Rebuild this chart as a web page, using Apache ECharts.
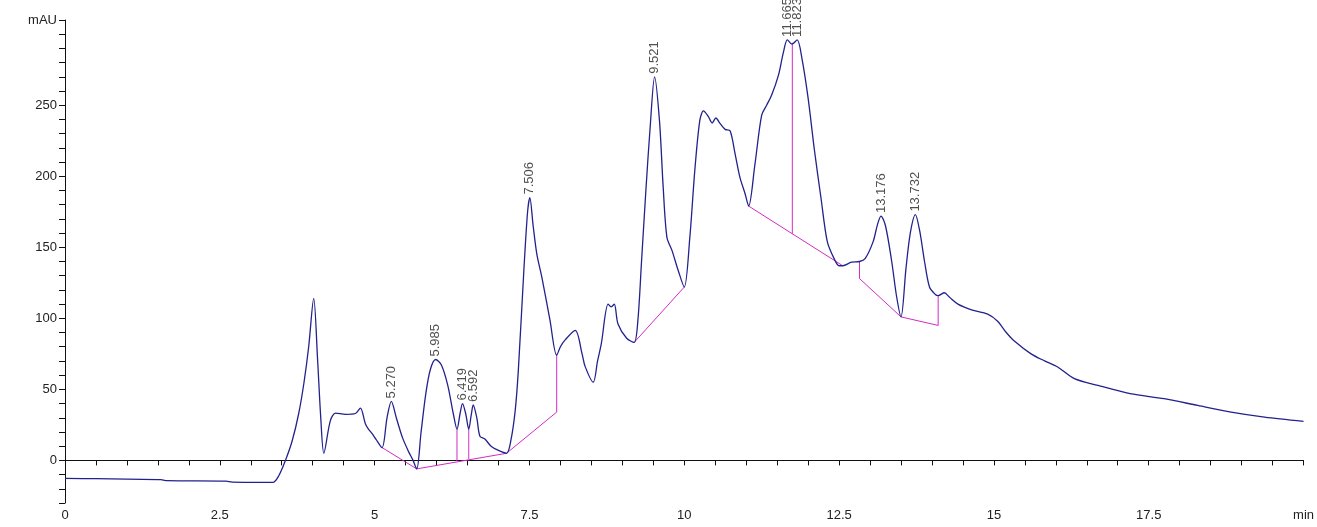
<!DOCTYPE html>
<html>
<head>
<meta charset="utf-8">
<title>Chromatogram</title>
<script src="https://cdn.jsdelivr.net/npm/echarts@6/dist/echarts.min.js"></script>
<style>
  html, body { margin: 0; padding: 0; background: #ffffff; }
  #chart { width: 1317px; height: 527px; }
</style>
</head>
<body>
<div id="chart"></div>
<script>
// Detector trace: retention time (min) and absorbance (mAU)
const traceTime = [
  0, 0.5, 1.0, 1.5, 1.55, 1.65, 2.6, 2.7, 3.355, 3.45, 3.56, 3.67, 3.774, 3.86, 3.935, 4.016,
  4.08, 4.13, 4.18, 4.285, 4.37, 4.53, 4.69, 4.77, 4.85, 4.9, 4.96, 5.02, 5.12,
  5.2, 5.27, 5.35, 5.45, 5.55, 5.62, 5.68,
  5.75, 5.83, 5.9, 5.985, 6.08, 6.18, 6.27, 6.33, 6.38, 6.419, 6.47, 6.52, 6.56, 6.592, 6.65, 6.7, 6.78, 6.88, 7.0, 7.13,
  7.2, 7.27, 7.32, 7.41, 7.47, 7.506, 7.56, 7.62, 7.7, 7.83, 7.94, 8.0, 8.08, 8.24, 8.35, 8.4, 8.53, 8.6, 8.66, 8.77, 8.82, 8.87, 8.93, 9.07, 9.19,
  9.25, 9.31, 9.38, 9.45, 9.521, 9.6, 9.66, 9.72, 9.8, 9.9, 10.0,
  10.09, 10.17, 10.25, 10.31, 10.39, 10.45, 10.51, 10.58, 10.66, 10.74, 10.82, 10.9, 10.98, 11.04,
  11.14, 11.25, 11.33, 11.41, 11.52, 11.6, 11.665, 11.74, 11.823, 11.9, 12.0, 12.1, 12.21, 12.31, 12.42, 12.5, 12.56,
  12.7, 12.83, 12.92, 13.05, 13.12, 13.176, 13.25, 13.35, 13.43, 13.5, 13.58, 13.65, 13.732, 13.8, 13.88, 13.96, 14.05, 14.1,
  14.2, 14.28, 14.42, 14.64, 14.9, 15.06, 15.2, 15.33, 15.6, 15.82, 16.03, 16.3, 16.68, 17.2, 17.75, 18.29, 18.83, 19.37, 20.0
];
const traceMAU = [
  -12.7, -12.9, -13.2, -13.5, -13.6, -14.3, -14.6, -15.3, -15.5, -11, 0, 14, 33, 55, 80, 114,
  70, 30, 5, 28, 33.3, 32.4, 33, 36.8, 25.8, 22, 18.8, 15, 9,
  30, 41.5, 30, 16, 6, 0, -6,
  20, 48, 64, 71, 67, 53, 33, 22, 33, 40, 33, 22, 32, 39, 30, 17, 15, 10, 7, 5,
  14, 35, 63, 134, 175, 185, 165, 145, 129, 99, 74, 80, 85, 91.5, 75, 66, 55, 70, 82, 110, 108, 110, 96, 86, 83,
  98, 140, 190, 235, 270, 239, 192, 157, 148, 134, 122,
  157, 204, 239, 246, 242, 237.5, 241, 237, 233, 232, 216, 199, 188, 179,
  208, 243, 250, 257, 271, 287, 296, 293, 296, 283, 255, 219, 184, 154, 142, 137, 137,
  139.5, 140, 142, 154, 166, 172, 165, 140, 115, 101, 135, 160, 173, 162, 140, 122, 117, 116,
  118, 115, 110, 106, 103, 98, 90, 84, 75, 70, 65.7, 57.5, 52.8, 47, 43.4, 38.7, 34, 30.5, 27.5
];

// Integrated peaks: retention time and apex height
const peakTimes = [5.270, 5.985, 6.419, 6.592, 7.506, 9.521, 11.665, 11.823, 13.176, 13.732];
const peakHeights = [41.5, 71, 40, 39, 185, 270, 296, 296, 172, 173];

// Integration baselines and drop lines, as [time, mAU] vertices
const baselineA = [[5.12, 9], [5.68, -6], [7.13, 5], [7.94, 34], [7.94, 74]];
const dropLine1 = [[6.33, 22], [6.33, -0.5]];
const dropLine2 = [[6.52, 22], [6.52, 0.8]];
const baselineB = [[9.19, 83], [10.0, 122]];
const baselineC = [[11.04, 179], [12.56, 137]];
const dropLine3 = [[11.745, 294], [11.745, 159.5]];
const baselineD = [[12.83, 140], [12.83, 128], [13.5, 101], [14.1, 95], [14.1, 116]];

// Axis settings
const xTickStep = 0.5;
const xLabelStep = 2.5;
const yTickStep = 10;
const yLabelStep = 50;
const yLabelTop = 250;

const tracePoints = traceTime.map((t, i) => [t, traceMAU[i]]);
const peakPoints = peakTimes.map((t, i) => [t, peakHeights[i]]);

const integColor = '#d42cc4';
function baselineSeries(points) {
  return {
    type: 'line',
    data: points,
    symbol: 'none',
    silent: true,
    animation: false,
    lineStyle: { color: integColor, width: 1 },
    z: 1
  };
}

const axisFont = { fontFamily: 'Liberation Sans, Arial, sans-serif', fontSize: 13, color: '#222' };

const chart = echarts.init(document.getElementById('chart'), null, { renderer: 'canvas' });
chart.setOption({
  animation: false,
  backgroundColor: '#ffffff',
  grid: { left: 65, right: 11, top: 20, bottom: 24, containLabel: false },
  xAxis: {
    type: 'value',
    min: 0,
    max: 20,
    interval: xTickStep,
    axisLine: { show: true, lineStyle: { color: '#111', width: 1 } },
    axisTick: { show: true, length: 5, inside: false, lineStyle: { color: '#111' } },
    splitLine: { show: false },
    axisLabel: Object.assign({}, axisFont, {
      margin: 6,
      hideOverlap: false,
      formatter: function (v) {
        const r = v / xLabelStep;
        if (Math.abs(r - Math.round(r)) > 1e-6) return '';
        return v === 20 ? 'min' : String(v);
      }
    })
  },
  yAxis: {
    type: 'value',
    min: -30,
    max: 310,
    interval: yTickStep,
    axisLine: { show: true, lineStyle: { color: '#111', width: 1 } },
    axisTick: { show: true, length: 6, inside: false, lineStyle: { color: '#111' } },
    splitLine: { show: false },
    axisLabel: Object.assign({}, axisFont, {
      margin: 8,
      hideOverlap: false,
      formatter: function (v) {
        if (v === 310) return 'mAU';
        if (v >= 0 && v <= yLabelTop && v % yLabelStep === 0) return String(v);
        return '';
      }
    })
  },
  series: [
    {
      type: 'line',
      data: tracePoints,
      symbol: 'none',
      smooth: 0.3,
      silent: true,
      lineStyle: { color: '#22228c', width: 1.3 },
      z: 3
    },
    baselineSeries(baselineA),
    baselineSeries(dropLine1),
    baselineSeries(dropLine2),
    baselineSeries(baselineB),
    baselineSeries(baselineC),
    baselineSeries(dropLine3),
    baselineSeries(baselineD),
    {
      type: 'scatter',
      data: peakPoints,
      symbolSize: 0,
      silent: true,
      z: 4,
      label: {
        show: true,
        position: 'top',
        distance: 3,
        rotate: 90,
        align: 'left',
        verticalAlign: 'middle',
        fontFamily: 'Liberation Sans, Arial, sans-serif',
        fontSize: 13,
        color: '#222',
        formatter: function (p) { return p.value[0].toFixed(3); }
      }
    }
  ]
});
</script>
</body>
</html>
